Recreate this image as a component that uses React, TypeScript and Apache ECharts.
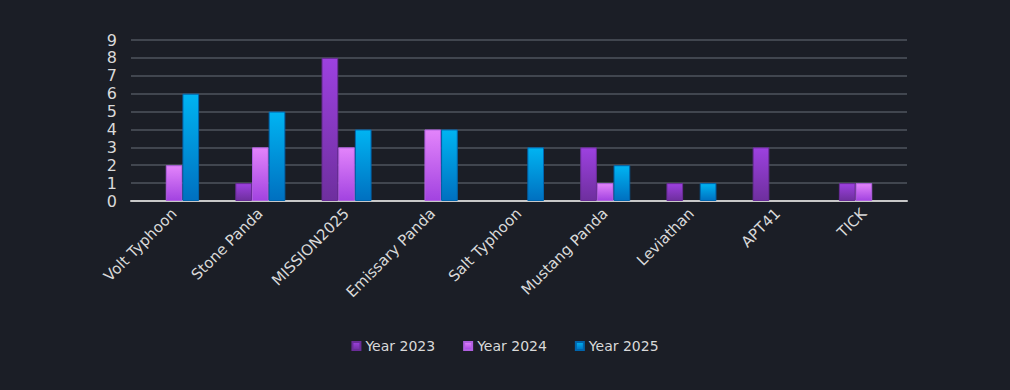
import React, { useEffect, useRef } from "react";
import * as echarts from "echarts";

const categories = ["Volt Typhoon", "Stone Panda", "MISSION2025", "Emissary Panda", "Salt Typhoon", "Mustang Panda", "Leviathan", "APT41", "TICK"];
const year2023 = [0, 1, 8, 0, 0, 3, 1, 3, 1];
const year2024 = [2, 3, 3, 4, 0, 1, 0, 0, 1];
const year2025 = [6, 5, 4, 4, 3, 2, 1, 0, 0];
const seriesNames = ["Year 2023", "Year 2024", "Year 2025"];
const yTicks = [0, 1, 2, 3, 4, 5, 6, 7, 8, 9];

const grad = (top: string, bottom: string) =>
  new echarts.graphic.LinearGradient(0, 0, 0, 1, [
    { offset: 0, color: top },
    { offset: 1, color: bottom },
  ]);

export default function App() {
  const ref = useRef<HTMLDivElement>(null);
  useEffect(() => {
    document.body.style.margin = "0";
    const chart = echarts.init(ref.current!, undefined, { renderer: "svg" });
    const font = "'DejaVu Sans', sans-serif";
    const colors = [
      grad("#9d41e0", "#6e2f9e"),
      grad("#e384fb", "#a243e0"),
      grad("#00b4f2", "#0070c0"),
    ];
    const borders = ["#6a2c98", "#b060e0", "#0065ad"];
    const data = [year2023, year2024, year2025];
    chart.setOption({
      animation: false,
      backgroundColor: "#1b1e26",
      textStyle: { fontFamily: font },
      grid: { left: 131, right: 103, top: 40, bottom: 189, containLabel: false },
      legend: {
        bottom: 32,
        left: "center",
        itemWidth: 8,
        itemHeight: 8,
        itemGap: 28,
        icon: "rect",
        textStyle: { color: "#d9d9d9", fontSize: 14, fontFamily: font },
        data: seriesNames,
      },
      xAxis: {
        type: "category",
        data: categories,
        axisLine: { lineStyle: { color: "#c8c8c8", width: 2 } },
        axisTick: { show: false },
        axisLabel: { color: "#d9d9d9", fontSize: 15, rotate: 45, interval: 0, margin: 10 },
      },
      yAxis: {
        type: "value",
        min: yTicks[0],
        max: yTicks[yTicks.length - 1],
        interval: 1,
        axisLine: { show: false },
        axisTick: { show: false },
        axisLabel: { color: "#d9d9d9", fontSize: 16, margin: 14 },
        splitLine: { lineStyle: { color: "#41464f", width: 2 } },
      },
      series: seriesNames.map((name, i) => ({
        name,
        type: "bar",
        data: data[i].map((v) => (v === 0 ? null : v)),
        barGap: "0%",
        barCategoryGap: "42%",
        itemStyle: { color: colors[i], borderColor: borders[i], borderWidth: 1 },
      })),
    });
    return () => chart.dispose();
  }, []);
  return <div ref={ref} style={{ position: "fixed", left: 0, top: 0, width: 1010, height: 390 }} />;
}
